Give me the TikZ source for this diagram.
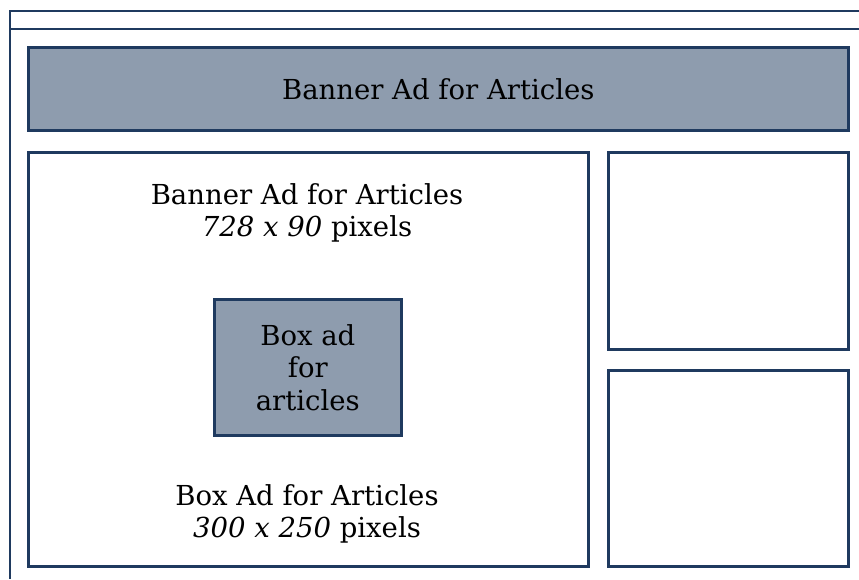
\documentclass[tikz,border=0pt]{standalone}
\usepackage{fontspec}
\setmainfont{DejaVu Serif}
\definecolor{rahmen}{HTML}{1F3A5F}
\definecolor{werbung}{HTML}{8E9CAE}
\tikzset{
	feld/.style={draw=rahmen,line width=2.6pt,inner sep=0pt,anchor=north west},
	anzeige/.style={feld,fill=werbung},
	schrift/.style={align=center,font=\fontsize{27.5}{32.5}\selectfont,text=black},
}
\begin{document}
\begin{tikzpicture}[x=1pt,y=-1pt]
\useasboundingbox (0,0) rectangle (859,579);
% Seitenrahmen
\draw[color=rahmen,line width=2.4pt] (859,11) -- (10,11) -- (10,579);
\draw[color=rahmen,line width=2.4pt] (10,29) -- (859,29);
%
\node[anzeige,minimum width=820pt,minimum height=83pt] (banner) at (27,46) {};
\node[schrift] at (banner.center) {Banner Ad for Articles};
%
\node[feld,minimum width=560pt,minimum height=414pt] (artikel) at (27,151) {};
\node[feld,minimum width=240pt,minimum height=197pt] (seiteoben) at (607,151) {};
\node[feld,minimum width=240pt,minimum height=196pt] (seiteunten) at (607,369) {};
%
\node[anzeige,minimum width=187pt,minimum height=136pt] (boxad) at (213,298) {};
\node[schrift] at (boxad.center) {Box ad\\for\\articles};
%
\node[schrift] (bannertext) at (307,213) {Banner Ad for Articles\\\textit{728 x 90} pixels};
\node[schrift] (boxtext) at (307,514) {Box Ad for Articles\\\textit{300 x 250} pixels};
\end{tikzpicture}
\end{document}
